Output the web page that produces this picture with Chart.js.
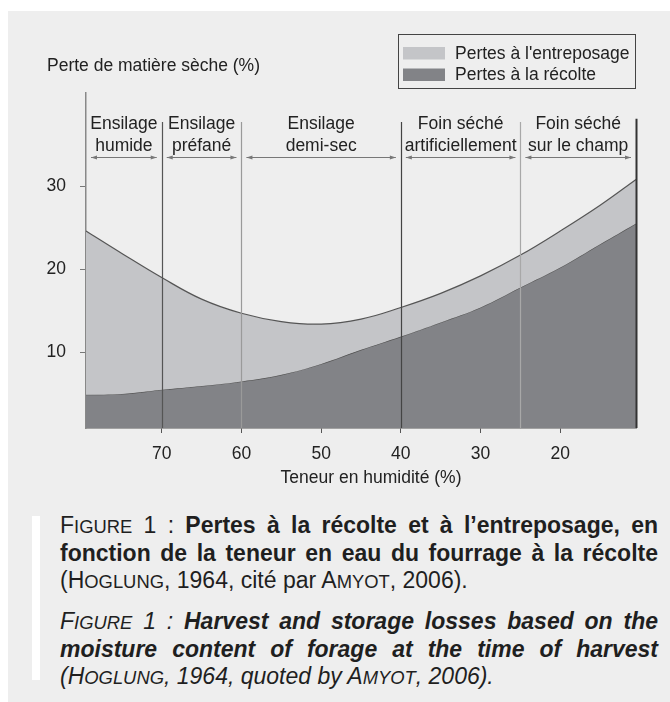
<!DOCTYPE html>
<html>
<head>
<meta charset="utf-8">
<script src="https://cdn.jsdelivr.net/npm/chart.js@4.4.1/dist/chart.umd.min.js"></script>
<style>
  html, body { margin: 0; padding: 0; background: #fff; }
  body { width: 670px; height: 702px; position: relative; overflow: hidden; font-family: "Liberation Sans", Arial, sans-serif; color: #222; }
  #panel { position: absolute; left: 8px; top: 11px; right: 0; bottom: 0; background: #eeeeee; }
  #bar { position: absolute; left: 32px; top: 516px; width: 8px; height: 164px; background: #fff; }
  #chart { position: absolute; left: 0; top: 0; }
  #caption { position: absolute; left: 60px; top: 512px; width: 598px; font-size: 23px; line-height: 27px; color: #1f1f1f; }
  #caption .j { text-align: justify; text-align-last: justify; white-space: nowrap; }
  #caption .l { text-align: left; }
  #caption .p2 { margin-top: 13px; font-style: italic; }
  .s { font-size: 0.8em; }
</style>
</head>
<body>
<div id="panel"></div>
<div id="bar"></div>
<canvas id="chart" width="670" height="500"></canvas>
<div id="caption">
  <div class="j">F<span class="s">IGURE</span> 1 : <b>Pertes à la récolte et à l’entreposage, en</b></div>
  <div class="j"><b>fonction de la teneur en eau du fourrage à la récolte</b></div>
  <div class="l">(H<span class="s">OGLUNG</span>, 1964, cité par A<span class="s">MYOT</span>, 2006).</div>
  <div class="p2">
    <div class="j">F<span class="s">IGURE</span> 1 : <b>Harvest and storage losses based on the</b></div>
    <div class="j"><b>moisture content of forage at the time of harvest</b></div>
    <div class="l">(H<span class="s">OGLUNG</span>, 1964, quoted by A<span class="s">MYOT</span>, 2006).</div>
  </div>
</div>
<script>
// moisture content (%) and dry matter losses (%)
const moisture = [79.5, 75, 70, 65, 60, 55, 50, 45, 40, 35, 30, 25, 20, 15, 10.5];
const totalLosses = [24.6, 21.9, 19.0, 16.4, 14.7, 13.7, 13.4, 14.0, 15.4, 17.1, 19.2, 21.7, 24.6, 27.7, 30.8];
const harvestLosses = [4.9, 5.0, 5.5, 5.95, 6.5, 7.3, 8.6, 10.3, 11.9, 13.6, 15.4, 17.8, 20.2, 23.0, 25.5];

const xTicks = [70, 60, 50, 40, 30, 20];
const yTicks = [10, 20, 30];

// harvest method zones
const zoneBounds = [79.5, 70, 60, 40, 25, 10.5];
const zoneLabels = [
  ['Ensilage', 'humide'],
  ['Ensilage', 'préfané'],
  ['Ensilage', 'demi-sec'],
  ['Foin séché', 'artificiellement'],
  ['Foin séché', 'sur le champ']
];

const FONT = '"Liberation Sans", Arial, sans-serif';
const boundColors = ['#888', '#555', '#9a9a9a', '#444', '#a8a8a8', '#333'];

function pts(ys) {
  return moisture.map(function(m, i) { return { x: m, y: ys[i] }; });
}

function arrow(ctx, x1, x2, yy) {
  ctx.beginPath();
  ctx.moveTo(x1, yy);
  ctx.lineTo(x2, yy);
  ctx.stroke();
  ctx.beginPath();
  ctx.moveTo(x1, yy); ctx.lineTo(x1 + 6, yy - 2); ctx.lineTo(x1 + 6, yy + 2); ctx.closePath();
  ctx.moveTo(x2, yy); ctx.lineTo(x2 - 6, yy - 2); ctx.lineTo(x2 - 6, yy + 2); ctx.closePath();
  ctx.fill();
}

const overlay = {
  id: 'overlay',
  afterDatasetsDraw(chart) {
    const ctx = chart.ctx;
    const x = chart.scales.x, y = chart.scales.y;
    const bottom = chart.chartArea.bottom;
    ctx.save();

    // zone boundaries
    for (let i = 1; i < zoneBounds.length; i++) {
      const px = Math.round(x.getPixelForValue(zoneBounds[i])) + 0.5;
      const top = i === zoneBounds.length - 1 ? y.getPixelForValue(38.1) : y.getPixelForValue(37.7);
      ctx.strokeStyle = boundColors[i];
      ctx.lineWidth = i === zoneBounds.length - 1 ? 2 : 1.2;
      ctx.beginPath();
      ctx.moveTo(px, top);
      ctx.lineTo(px, bottom);
      ctx.stroke();
    }

    // zone labels + arrows
    ctx.font = '17.5px ' + FONT;
    ctx.textAlign = 'center';
    ctx.textBaseline = 'alphabetic';
    for (let i = 0; i < zoneLabels.length; i++) {
      const a = x.getPixelForValue(zoneBounds[i]);
      const b = x.getPixelForValue(zoneBounds[i + 1]);
      const cx = (a + b) / 2;
      ctx.fillStyle = '#222';
      ctx.fillText(zoneLabels[i][0], cx, 128.5);
      ctx.fillText(zoneLabels[i][1], cx, 151);
      ctx.strokeStyle = '#777';
      ctx.fillStyle = '#777';
      ctx.lineWidth = 1.2;
      arrow(ctx, a + 5, b - 5, 157.5);
    }

    // y title
    ctx.fillStyle = '#222';
    ctx.textAlign = 'left';
    ctx.fillText('Perte de matière sèche (%)', 47, 71);

    // x title
    ctx.textAlign = 'center';
    ctx.fillText('Teneur en humidité (%)', 371, 483);

    // legend
    ctx.strokeStyle = '#444';
    ctx.lineWidth = 1;
    ctx.strokeRect(398.5, 34.5, 237, 54);
    ctx.textAlign = 'left';
    chart.data.datasets.forEach(function(ds, i) {
      ctx.fillStyle = ds.backgroundColor;
      ctx.fillRect(403, 47 + i * 21.5, 42, 12.5);
      ctx.fillStyle = '#222';
      ctx.fillText(ds.label, 455, 59.3 + i * 21);
    });
    ctx.restore();
  }
};

new Chart(document.getElementById('chart'), {
  type: 'line',
  data: {
    datasets: [
      {
        label: "Pertes à l'entreposage",
        data: pts(totalLosses),
        backgroundColor: '#c4c5c8',
        borderColor: '#555',
        borderWidth: 1.2,
        fill: '+1',
        tension: 0.4,
        pointRadius: 0
      },
      {
        label: 'Pertes à la récolte',
        data: pts(harvestLosses),
        backgroundColor: '#828387',
        borderColor: '#555',
        borderWidth: 1.2,
        fill: 'start',
        tension: 0.4,
        pointRadius: 0
      }
    ]
  },
  options: {
    responsive: false,
    animation: false,
    layout: { padding: { top: 93, right: 34, left: 0, bottom: 0 } },
    plugins: {
      legend: { display: false },
      tooltip: { enabled: false }
    },
    scales: {
      x: {
        type: 'linear',
        reverse: true,
        min: 10.5,
        max: 79.5,
        afterFit: function(s) { s.height = 72; },
        afterBuildTicks: function(s) { s.ticks = xTicks.map(function(v) { return { value: v }; }); },
        grid: { drawOnChartArea: false, tickLength: 5, color: '#555' },
        border: { color: '#555', width: 1.5 },
        ticks: { padding: 11, color: '#222', font: { family: FONT, size: 17.5 }, maxRotation: 0, autoSkip: false }
      },
      y: {
        min: 0.9,
        max: 41.2,
        afterFit: function(s) { s.width = 86; },
        afterBuildTicks: function(s) { s.ticks = yTicks.map(function(v) { return { value: v }; }); },
        grid: { drawOnChartArea: false, tickLength: 6, color: '#777' },
        border: { color: '#888', width: 1.5 },
        ticks: { padding: 14, color: '#222', font: { family: FONT, size: 17.5 } }
      }
    }
  },
  plugins: [overlay]
});
</script>
</body>
</html>
